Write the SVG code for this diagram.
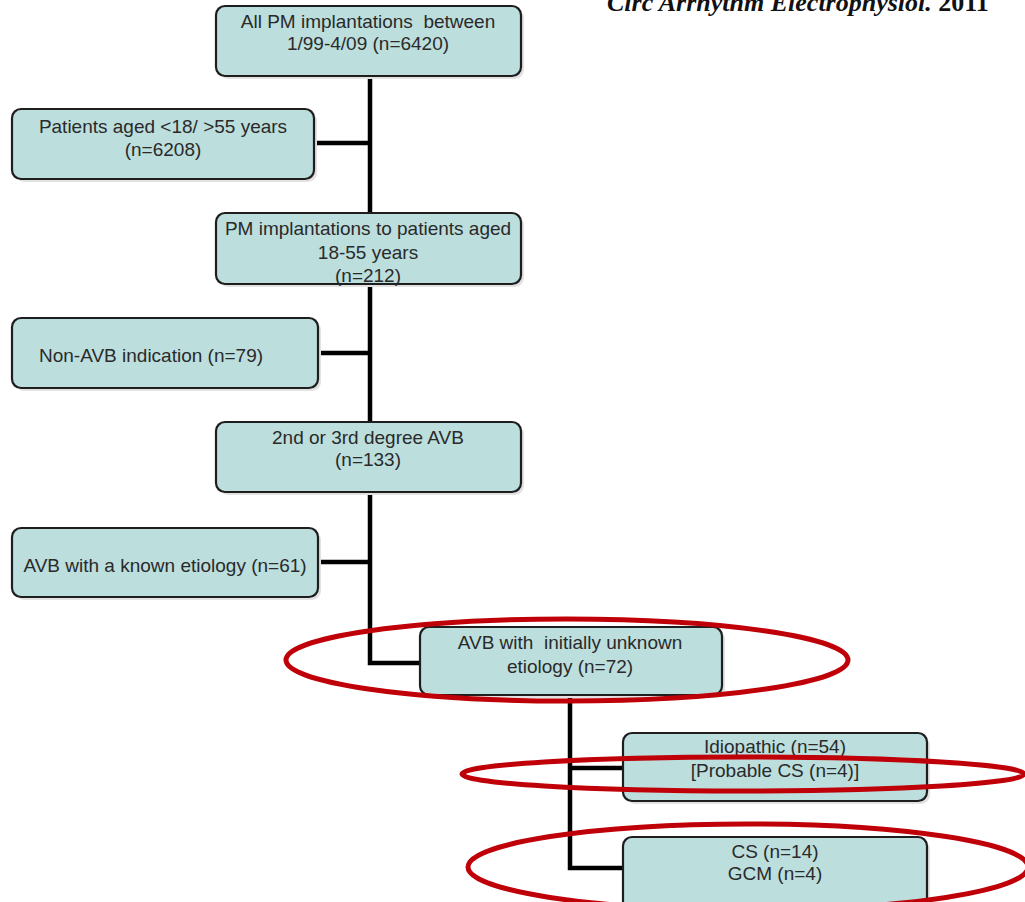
<svg xmlns="http://www.w3.org/2000/svg" width="1025" height="902" viewBox="0 0 1025 902">
<style>
.box{fill:#bcdedd;stroke:#1e1e1e;stroke-width:2.2}
.sh{fill:#e2e2e2}
.t{font-family:"Liberation Sans",Arial,sans-serif;font-size:19px;fill:#2a2a2a;text-anchor:middle}
.c{stroke:#000;stroke-width:4.5;fill:none}
.e{fill:none;stroke:#c00008;stroke-width:5}
</style>
<rect width="1025" height="902" fill="#fff"/>
<text x="607" y="11" font-family="'Liberation Serif',serif" font-weight="bold" font-style="italic" font-size="26" fill="#111">Circ Arrhythm Electrophysiol.<tspan font-style="normal"> 2011</tspan></text>
<g id="connectors">
<polyline class="c" points="370,75 370,663 420,663"/>
<line class="c" x1="314" y1="143" x2="370" y2="143"/>
<line class="c" x1="318" y1="353" x2="370" y2="353"/>
<line class="c" x1="318" y1="562" x2="370" y2="562"/>
<polyline class="c" points="570,695 570,868 623,868"/>
<line class="c" x1="570" y1="768" x2="623" y2="768"/>
</g>
<g id="n1"><rect class="sh" x="219" y="9" width="305" height="70" rx="9"/><rect class="box" x="216" y="6" width="305" height="70" rx="9"/>
<text class="t" x="368" y="28">All PM implantations&#160; between</text><text class="t" x="368" y="50">1/99-4/09 (n=6420)</text></g>
<g id="n2"><rect class="sh" x="15" y="112" width="302" height="70" rx="9"/><rect class="box" x="12" y="109" width="302" height="70" rx="9"/>
<text class="t" x="163" y="133">Patients aged &lt;18/ &gt;55 years</text><text class="t" x="163" y="156">(n=6208)</text></g>
<g id="n3"><rect class="sh" x="219" y="216" width="305" height="71" rx="9"/><rect class="box" x="216" y="213" width="305" height="71" rx="9"/>
<text class="t" x="368" y="235">PM implantations to patients aged</text><text class="t" x="368" y="259">18-55 years</text><text class="t" x="368" y="282">(n=212)</text></g>
<g id="n4"><rect class="sh" x="15" y="321" width="306" height="70" rx="9"/><rect class="box" x="12" y="318" width="306" height="70" rx="9"/>
<text class="t" x="151" y="362">Non-AVB indication (n=79)</text></g>
<g id="n5"><rect class="sh" x="219" y="425" width="305" height="70" rx="9"/><rect class="box" x="216" y="422" width="305" height="70" rx="9"/>
<text class="t" x="368" y="444">2nd or 3rd degree AVB</text><text class="t" x="368" y="466">(n=133)</text></g>
<g id="n6"><rect class="sh" x="15" y="531" width="306" height="69" rx="9"/><rect class="box" x="12" y="528" width="306" height="69" rx="9"/>
<text class="t" x="165" y="572">AVB with a known etiology (n=61)</text></g>
<g id="n7"><rect class="sh" x="423" y="630" width="302" height="68" rx="9"/><rect class="box" x="420" y="627" width="302" height="68" rx="9"/>
<text class="t" x="570" y="649">AVB with&#160; initially unknown</text><text class="t" x="570" y="673">etiology (n=72)</text></g>
<g id="n8"><rect class="sh" x="626" y="736" width="304" height="68" rx="9"/><rect class="box" x="623" y="733" width="304" height="68" rx="9"/>
<text class="t" x="775" y="753">Idiopathic (n=54)</text><text class="t" x="775" y="777">[Probable CS (n=4)]</text></g>
<g id="n9"><rect class="sh" x="626" y="840" width="304" height="75" rx="9"/><rect class="box" x="623" y="837" width="304" height="75" rx="9"/>
<text class="t" x="775" y="858">CS (n=14)</text><text class="t" x="775" y="880">GCM (n=4)</text></g>
<g id="highlights">
<ellipse class="e" cx="567" cy="660" rx="281" ry="41"/>
<ellipse class="e" cx="743" cy="774" rx="281" ry="17"/>
<ellipse class="e" cx="748" cy="867" rx="280" ry="43"/>
</g>
</svg>
